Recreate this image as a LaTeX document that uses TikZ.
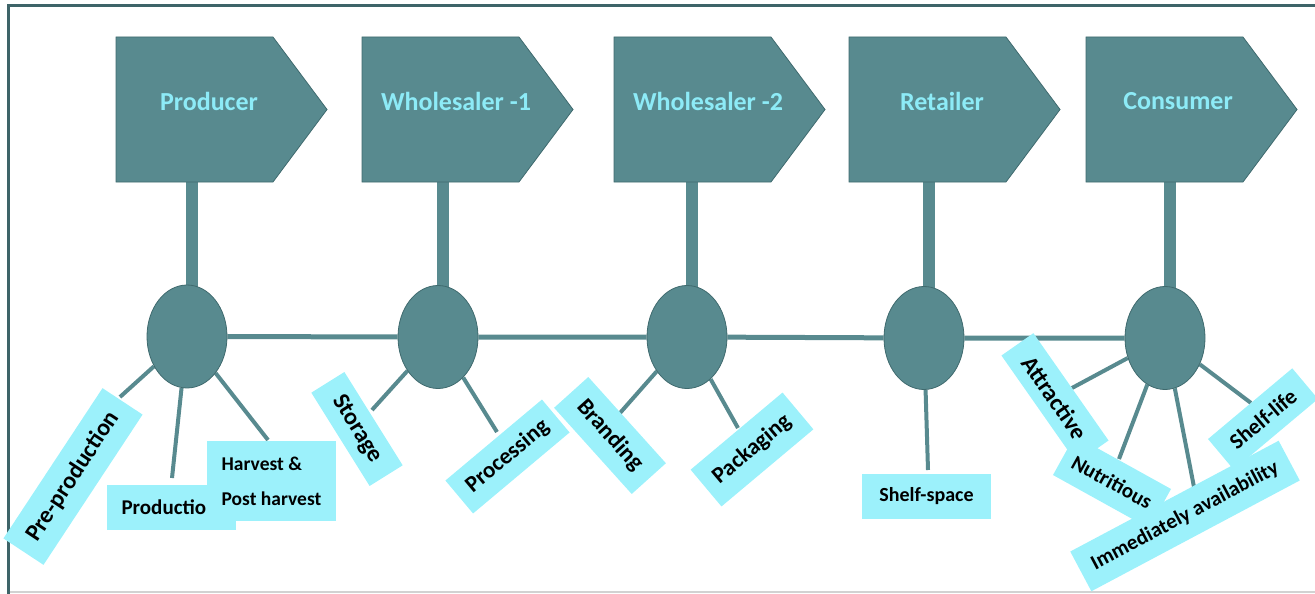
\documentclass[tikz,border=0pt]{standalone}
\usepackage{fontspec}
\setmainfont{Carlito}
\usetikzlibrary{shapes.symbols,shapes.geometric,backgrounds}
\definecolor{tealfill}{HTML}{588A8F}
\definecolor{tealedge}{HTML}{3F6A6E}
\definecolor{boxfill}{HTML}{9CF1FB}
\definecolor{titlecol}{HTML}{8DEBF7}
\definecolor{framecol}{HTML}{3E6468}
\tikzset{
  stage/.style={signal, signal to=east, signal pointer angle=106.6,
    minimum width=211pt, minimum height=145pt, inner sep=0pt,
    fill=tealfill, draw=tealedge, line width=0.8pt},
  hub/.style={ellipse, minimum width=80pt, minimum height=103pt, inner sep=0pt,
    fill=tealfill, draw=tealedge, line width=0.8pt},
  ttl/.style={text=titlecol, font=\fontsize{26}{30}\selectfont\bfseries},
  stemline/.style={line width=12pt, tealfill},
  chainline/.style={line width=5pt, tealfill},
  spoke/.style={line width=4pt, tealfill},
  lab/.style n args={3}{fill=boxfill, inner sep=0pt, text=black,
    minimum width=#1pt, minimum height=#2pt, rotate=#3},
  fs/.style={font=\fontsize{#1}{35}\selectfont\bfseries},
}
\begin{document}
\begin{tikzpicture}[x=1pt,y=-1pt]
\useasboundingbox (0,0) rectangle (1315,594);
% frame
\draw[framecol, line width=3pt] (8,594) -- (8,6) -- (1315,6);
\draw[gray!35, line width=1.5pt] (9.5,592) -- (1315,592);

% stages (center = centre of the rectangular body)
\node[stage] (s1) at (194.5,109.5) {};
\node[stage] (s2) at (440.5,109.5) {};
\node[stage] (s3) at (692.5,109.5) {};
\node[stage] (s4) at (927.5,109.5) {};
\node[stage] (s5) at (1164.5,109.5) {};
\node[ttl] (t1) at (209,101) {Producer};
\node[ttl] (t2) at (456,101) {Wholesaler -1};
\node[ttl] (t3) at (708,101) {Wholesaler -2};
\node[ttl] (t4) at (942,101) {Retailer};
\node[ttl] (t5) at (1178,101) {Consumer};

% hubs
\node[hub] (h1) at (187,336.5) {};
\node[hub] (h2) at (438,337) {};
\node[hub] (h3) at (687,337) {};
\node[hub] (h4) at (924,338) {};
\node[hub] (h5) at (1165,338) {};

% spoke ends
\coordinate (e11) at (120,397);
\coordinate (e12) at (172,478);
\coordinate (e13) at (268,440);
\coordinate (e21) at (372,410);
\coordinate (e22) at (497,432);
\coordinate (e31) at (620,413);
\coordinate (e32) at (738,428);
\coordinate (e41) at (928,470);
\coordinate (e51) at (1072,388);
\coordinate (e52) at (1119,459);
\coordinate (e53) at (1194,487);
\coordinate (e54) at (1251,403);

\begin{scope}[on background layer]
  \foreach \i in {1,...,5}{
    \draw[stemline] ([xshift=5pt]h\i.center) -- ([xshift=5pt]h\i.center |- s\i.south);
  }
  \draw[chainline] (h1) -- (h2) -- (h3) -- (h4) -- (h5);
  \draw[spoke] (h1) -- (e11);
  \draw[spoke] (h1) -- (e12);
  \draw[spoke] (h1) -- (e13);
  \draw[spoke] (h2) -- (e21);
  \draw[spoke] (h2) -- (e22);
  \draw[spoke] (h3) -- (e31);
  \draw[spoke] (h3) -- (e32);
  \draw[spoke] (h4) -- (e41);
  \draw[spoke] (h5) -- (e51);
  \draw[spoke] (h5) -- (e52);
  \draw[spoke] (h5) -- (e53);
  \draw[spoke] (h5) -- (e54);
\end{scope}

% labels
\node[lab={180}{48}{56.6}, fs=24] (pre) at (73,476.5) {Pre-production};
\node[lab={129}{45}{0}, fs=21] (prd) at (171.5,507) {\hspace*{-4pt}Production};
\node[lab={129}{80}{0}, fs=19.5, align=left] (hrv) at (271.5,481) {Harvest \&\\Post harvest};
\node[lab={110}{39}{-58}, fs=24] (sto) at (357,429) {Storage};
\node[lab={126}{43}{40}, fs=23] (pro) at (507.5,456.5) {Processing};
\node[lab={116}{46}{-48}, fs=23.5] (bra) at (610,435.5) {Branding};
\node[lab={120}{48}{40}, fs=23] (pac) at (752,449.5) {Packaging};
\node[lab={129}{45}{0}, fs=20] (shs) at (926.5,496.5) {Shelf-space};
\node[lab={131}{39}{-55}, fs=24] (att) at (1055,398) {Attractive};
\node[lab={110}{45}{-29}, fs=21] (nut) at (1112,482) {Nutritious};
\node[lab={110}{40}{40}, fs=22] (shl) at (1263,419) {Shelf-life};
\node[lab={236}{45}{28}, fs=21] (imm) at (1185,516) {Immediately availability};
\end{tikzpicture}
\end{document}
